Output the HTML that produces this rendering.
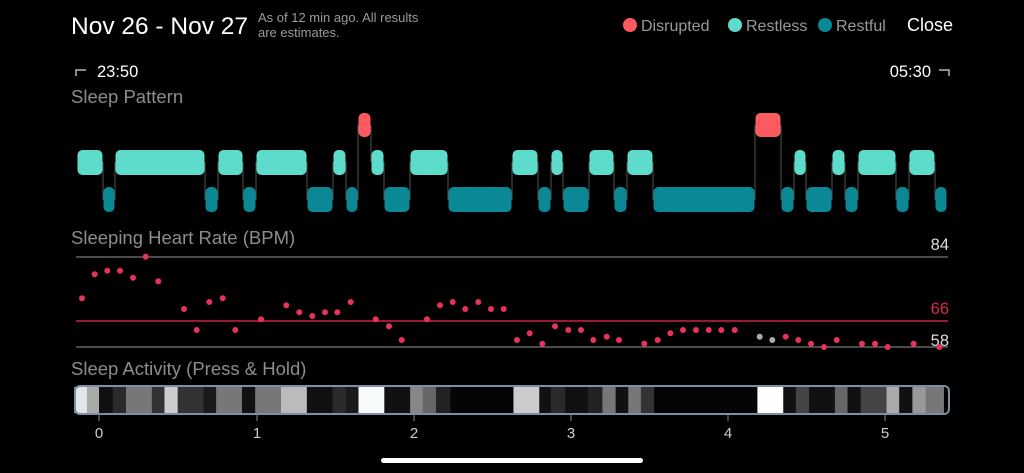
<!DOCTYPE html>
<html><head><meta charset="utf-8"><style>
html,body{margin:0;padding:0;background:#000;width:1024px;height:473px;overflow:hidden}
svg{display:block;font-family:"Liberation Sans",sans-serif}
</style></head><body>
<svg width="1024" height="473" viewBox="0 0 1024 473" xmlns="http://www.w3.org/2000/svg">
<text x="71" y="34" fill="#fff" font-size="24.5">Nov 26 - Nov 27</text>
<text x="258" y="22" fill="#9a9a9a" font-size="13">As of 12 min ago. All results</text>
<text x="258" y="37" fill="#9a9a9a" font-size="13">are estimates.</text>
<circle cx="630" cy="25" r="7" fill="#ff5a5f"/><text x="641" y="31" fill="#9a9a9a" font-size="16">Disrupted</text>
<circle cx="735" cy="25" r="7" fill="#5edccb"/><text x="746" y="31" fill="#9a9a9a" font-size="16">Restless</text>
<circle cx="825" cy="25" r="7" fill="#0a8895"/><text x="836" y="31" fill="#9a9a9a" font-size="16">Restful</text>
<text x="907" y="31" fill="#fff" font-size="18">Close</text>
<path d="M76 76 V70 H86" stroke="#aab8c8" stroke-width="1.5" fill="none"/>
<text x="97" y="77" fill="#fff" font-size="16.5">23:50</text>
<path d="M949 76 V70 H939" stroke="#aab8c8" stroke-width="1.5" fill="none"/>
<text x="931" y="77" fill="#fff" font-size="16.5" text-anchor="end">05:30</text>
<text x="71" y="103" fill="#8c8c8c" font-size="18.5">Sleep Pattern</text>

<path stroke="#555" stroke-width="1" fill="none" d="M103 162V200 M115 162V200 M205 162V200 M218 162V200 M243 162V200 M256 162V200 M307 162V200 M333 162V200 M346 162V200 M358 125V200 M371 125V162 M384 162V200 M410 162V200 M448 162V200 M512 162V200 M538 162V200 M551 162V200 M563 162V200 M589 162V200 M614 162V200 M627 162V200 M653 162V200 M755 125V200 M781 125V200 M794 162V200 M806 162V200 M832 162V200 M845 162V200 M858 162V200 M896 162V200 M909 162V200 M935 162V200"/>
<g fill="#5edccb">
<rect x="77.5" y="150" width="25" height="25" rx="5"/>
<rect x="115.5" y="150" width="89" height="25" rx="5"/>
<rect x="218.5" y="150" width="24" height="25" rx="5"/>
<rect x="256.5" y="150" width="50" height="25" rx="5"/>
<rect x="333.5" y="150" width="12" height="25" rx="5"/>
<rect x="371.5" y="150" width="12" height="25" rx="5"/>
<rect x="410.5" y="150" width="37" height="25" rx="5"/>
<rect x="512.5" y="150" width="25" height="25" rx="5"/>
<rect x="551.5" y="150" width="11" height="25" rx="5"/>
<rect x="589.5" y="150" width="24" height="25" rx="5"/>
<rect x="627.5" y="150" width="25" height="25" rx="5"/>
<rect x="794.5" y="150" width="11" height="25" rx="5"/>
<rect x="832.5" y="150" width="12" height="25" rx="5"/>
<rect x="858.5" y="150" width="37" height="25" rx="5"/>
<rect x="909.5" y="150" width="25" height="25" rx="5"/>
</g>
<g fill="#0a8895">
<rect x="103.5" y="187" width="11" height="25" rx="5"/>
<rect x="205.5" y="187" width="12" height="25" rx="5"/>
<rect x="243.5" y="187" width="12" height="25" rx="5"/>
<rect x="307.5" y="187" width="25" height="25" rx="5"/>
<rect x="346.5" y="187" width="11" height="25" rx="5"/>
<rect x="384.5" y="187" width="25" height="25" rx="5"/>
<rect x="448.5" y="187" width="63" height="25" rx="5"/>
<rect x="538.5" y="187" width="12" height="25" rx="5"/>
<rect x="563.5" y="187" width="25" height="25" rx="5"/>
<rect x="614.5" y="187" width="12" height="25" rx="5"/>
<rect x="653.5" y="187" width="101" height="25" rx="5"/>
<rect x="781.5" y="187" width="12" height="25" rx="5"/>
<rect x="806.5" y="187" width="25" height="25" rx="5"/>
<rect x="845.5" y="187" width="12" height="25" rx="5"/>
<rect x="896.5" y="187" width="12" height="25" rx="5"/>
<rect x="935.5" y="187" width="11" height="25" rx="5"/>
</g>
<g fill="#ff5a5f">
<rect x="358.5" y="113" width="12" height="24" rx="5"/>
<rect x="755.5" y="113" width="25" height="24" rx="5"/>
</g>

<text x="71" y="244" fill="#8c8c8c" font-size="18.5">Sleeping Heart Rate (BPM)</text>
<line x1="76" y1="257" x2="948" y2="257" stroke="#777" stroke-width="1.2"/>
<line x1="76" y1="321" x2="948" y2="321" stroke="#c8234a" stroke-width="1.4"/>
<line x1="76" y1="347" x2="948" y2="347" stroke="#777" stroke-width="1.2"/>
<text x="949" y="250" fill="#ddd" font-size="16.5" text-anchor="end">84</text>
<text x="949" y="314" fill="#d8284f" font-size="16.5" text-anchor="end">66</text>
<text x="949" y="346" fill="#ddd" font-size="16.5" text-anchor="end">58</text>
<g fill="#e8325a">
<circle cx="82" cy="298.3" r="3"/><circle cx="94.7" cy="274.3" r="3"/><circle cx="107.3" cy="270.7" r="3"/><circle cx="120" cy="270.7" r="3"/><circle cx="133" cy="277.7" r="3"/><circle cx="145.7" cy="256.7" r="3"/><circle cx="158.3" cy="281.3" r="3"/><circle cx="184" cy="309" r="3"/><circle cx="196.7" cy="330" r="3"/><circle cx="209.3" cy="302" r="3"/><circle cx="222.7" cy="298.3" r="3"/><circle cx="235.3" cy="330" r="3"/><circle cx="261" cy="319.3" r="3"/><circle cx="286.3" cy="305.3" r="3"/><circle cx="299.3" cy="312.3" r="3"/><circle cx="312.3" cy="316" r="3"/><circle cx="325" cy="312.3" r="3"/><circle cx="337.3" cy="312.3" r="3"/><circle cx="350.7" cy="302" r="3"/><circle cx="375.7" cy="319.3" r="3"/><circle cx="389" cy="326.3" r="3"/><circle cx="401.7" cy="340" r="3"/><circle cx="427" cy="319.3" r="3"/><circle cx="440" cy="305.3" r="3"/><circle cx="452.7" cy="302" r="3"/><circle cx="465.3" cy="309" r="3"/><circle cx="478.3" cy="302" r="3"/><circle cx="491" cy="309" r="3"/><circle cx="503.7" cy="309" r="3"/>
<circle cx="517" cy="340" r="3"/><circle cx="529.7" cy="333.3" r="3"/><circle cx="542.3" cy="343.7" r="3"/><circle cx="555" cy="326.3" r="3"/><circle cx="568.3" cy="330" r="3"/><circle cx="581" cy="330" r="3"/><circle cx="593.3" cy="340" r="3"/><circle cx="606.7" cy="336.7" r="3"/><circle cx="619" cy="340" r="3"/><circle cx="644.3" cy="343.7" r="3"/><circle cx="657.7" cy="340" r="3"/><circle cx="670.3" cy="333.3" r="3"/><circle cx="683" cy="330" r="3"/><circle cx="696" cy="330" r="3"/><circle cx="708.7" cy="330" r="3"/><circle cx="721.3" cy="330" r="3"/><circle cx="734.7" cy="330" r="3"/><circle cx="785.7" cy="336.7" r="3"/><circle cx="798.3" cy="340" r="3"/><circle cx="811" cy="343.7" r="3"/><circle cx="824" cy="347" r="3"/><circle cx="836.7" cy="340" r="3"/><circle cx="862" cy="343.7" r="3"/><circle cx="875" cy="343.7" r="3"/><circle cx="887.7" cy="347" r="3"/><circle cx="913.7" cy="343.7" r="3"/><circle cx="939.3" cy="347" r="3"/>
</g>
<circle cx="759.7" cy="336.7" r="3" fill="#aaa"/><circle cx="772.3" cy="340" r="3" fill="#aaa"/>

<text x="71" y="375" fill="#8c8c8c" font-size="18.5">Sleep Activity (Press &amp; Hold)</text>
<g transform="translate(60,387) scale(0.574,1)">
<rect x="25" y="0" width="23" height="26" fill="#e0e6ea"/><rect x="47" y="0" width="22" height="26" fill="#aaa"/><rect x="68" y="0" width="25" height="26" fill="#111"/><rect x="92" y="0" width="24" height="26" fill="#2a2a2a"/><rect x="115" y="0" width="46" height="26" fill="#777"/><rect x="160" y="0" width="23" height="26" fill="#333"/><rect x="182" y="0" width="24" height="26" fill="#ccc"/><rect x="205" y="0" width="46" height="26" fill="#333"/><rect x="250" y="0" width="23" height="26" fill="#1a1a1a"/><rect x="272" y="0" width="46" height="26" fill="#777"/><rect x="317" y="0" width="24" height="26" fill="#111"/><rect x="340" y="0" width="46" height="26" fill="#777"/><rect x="385" y="0" width="46" height="26" fill="#bbb"/><rect x="430" y="0" width="46" height="26" fill="#111"/><rect x="475" y="0" width="24" height="26" fill="#2a2a2a"/><rect x="498" y="0" width="23" height="26" fill="#1a1a1a"/><rect x="520" y="0" width="46" height="26" fill="#f8fbfb"/><rect x="565" y="0" width="46" height="26" fill="#111"/><rect x="610" y="0" width="23" height="26" fill="#888"/><rect x="632" y="0" width="24" height="26" fill="#666"/><rect x="655" y="0" width="26" height="26" fill="#222"/><rect x="680" y="0" width="111" height="26" fill="#050505"/><rect x="790" y="0" width="46" height="26" fill="#ccc"/><rect x="835" y="0" width="21" height="26" fill="#111"/><rect x="855" y="0" width="26" height="26" fill="#2a2a2a"/><rect x="880" y="0" width="41" height="26" fill="#111"/><rect x="920" y="0" width="26" height="26" fill="#222"/><rect x="945" y="0" width="24" height="26" fill="#777"/><rect x="968" y="0" width="23" height="26" fill="#111"/><rect x="990" y="0" width="23" height="26" fill="#777"/><rect x="1012" y="0" width="24" height="26" fill="#333"/><rect x="1035" y="0" width="181" height="26" fill="#050505"/><rect x="1215" y="0" width="46" height="26" fill="#fff"/><rect x="1260" y="0" width="23" height="26" fill="#111"/><rect x="1282" y="0" width="24" height="26" fill="#444"/><rect x="1305" y="0" width="46" height="26" fill="#111"/><rect x="1350" y="0" width="23" height="26" fill="#666"/><rect x="1372" y="0" width="24" height="26" fill="#111"/><rect x="1395" y="0" width="46" height="26" fill="#444"/><rect x="1440" y="0" width="23" height="26" fill="#aaa"/><rect x="1462" y="0" width="24" height="26" fill="#111"/><rect x="1485" y="0" width="24" height="26" fill="#999"/><rect x="1508" y="0" width="32" height="26" fill="#777"/>
</g>
<rect x="75" y="386" width="874" height="28" rx="5" fill="none" stroke="#7d8fa0" stroke-width="2"/>
<g fill="#ccc" font-size="15" text-anchor="middle" stroke-width="1">
<line x1="99" y1="415" x2="99" y2="421" stroke="#7d8fa0"/><text x="99" y="438">0</text>
<line x1="257" y1="415" x2="257" y2="421" stroke="#7d8fa0"/><text x="257" y="438">1</text>
<line x1="414" y1="415" x2="414" y2="421" stroke="#7d8fa0"/><text x="414" y="438">2</text>
<line x1="571" y1="415" x2="571" y2="421" stroke="#7d8fa0"/><text x="571" y="438">3</text>
<line x1="728" y1="415" x2="728" y2="421" stroke="#7d8fa0"/><text x="728" y="438">4</text>
<line x1="885" y1="415" x2="885" y2="421" stroke="#7d8fa0"/><text x="885" y="438">5</text>
</g>
<rect x="381" y="458" width="262" height="5" rx="2.5" fill="#fff"/>
</svg>
</body></html>
